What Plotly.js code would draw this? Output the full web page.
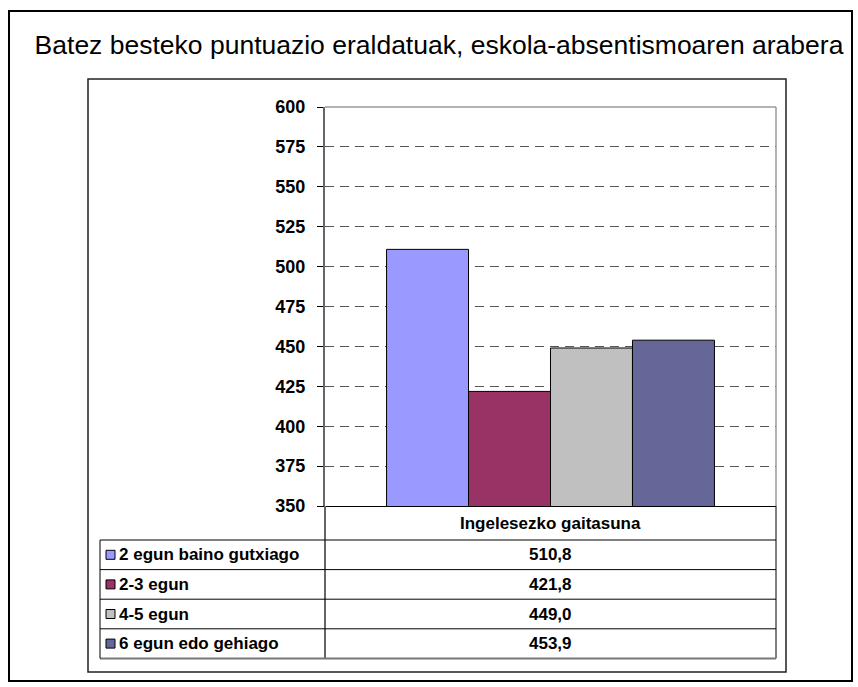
<!DOCTYPE html>
<html>
<head>
<meta charset="utf-8">
<script src="https://cdn.plot.ly/plotly-3.0.1.min.js"></script>
<style>
  html, body { margin: 0; padding: 0; background: #ffffff; }
  #chart { width: 858px; height: 687px; }
</style>
</head>
<body>
<div id="chart"></div>
<script>
// ---- data ----
const chartTitle = 'Batez besteko puntuazio eraldatuak, eskola-absentismoaren arabera';
const categories = ['Ingelesezko gaitasuna'];
const seriesNames = ['2 egun baino gutxiago', '2-3 egun', '4-5 egun', '6 egun edo gehiago'];
const seriesValues = [510.8, 421.8, 449.0, 453.9];
const yTickValues = [350, 375, 400, 425, 450, 475, 500, 525, 550, 575, 600];

// ---- styles ----
const seriesColors = ['#9999FF', '#993366', '#C0C0C0', '#666699'];
const W = 858, H = 687;
const plotL = 325, plotR = 776, plotT = 107, plotB = 506;
const FONT = 'Liberation Sans, Arial, sans-serif';
const TABLE_FONT = 17;

const px = x => (x - plotL) / (plotR - plotL);
const py = y => (plotB - y) / (plotB - plotT);

const traces = seriesNames.map((name, i) => ({
  type: 'bar',
  name: name,
  x: categories,
  y: [seriesValues[i]],
  marker: { color: seriesColors[i], line: { color: '#000000', width: 1 } },
  hoverinfo: 'skip'
}));

// table geometry (pixels)
const tableL = 100;
const headerB = 540;
const rowH = 29.6;
const rowTops = seriesNames.map((_, i) => headerB + i * rowH);
const tableB = headerB + seriesNames.length * rowH;

const shapes = [];
const line = (x0, y0, x1, y1, color, width) => shapes.push({
  type: 'line', xref: 'paper', yref: 'paper',
  x0: px(x0), y0: py(y0), x1: px(x1), y1: py(y1),
  line: { color: color, width: width }
});
// outer border
shapes.push({ type: 'rect', xref: 'paper', yref: 'paper',
  x0: px(9), y0: py(11), x1: px(852), y1: py(681),
  line: { color: '#000000', width: 2 }, layer: 'below' });
// inner chart-area box
shapes.push({ type: 'rect', xref: 'paper', yref: 'paper',
  x0: px(88), y0: py(79), x1: px(786), y1: py(672),
  line: { color: '#222222', width: 1.5 }, layer: 'below' });
// plot area top/right border
line(plotL, plotT, plotR, plotT, '#999999', 1.5);
line(plotR, plotT, plotR, plotB, '#999999', 1.5);
// table lines
line(plotL, plotB, plotL, tableB, '#666666', 2);
line(plotR, plotB, plotR, tableB, '#000000', 1);
line(tableL, headerB, plotR, headerB, '#000000', 1);
seriesNames.forEach((_, i) => {
  if (i < seriesNames.length - 1) line(tableL, rowTops[i] + rowH, plotR, rowTops[i] + rowH, '#000000', 1);
});
line(tableL, tableB, plotR, tableB, '#777777', 2);
line(tableL, headerB, tableL, tableB, '#000000', 1);
// legend keys
seriesNames.forEach((_, i) => {
  const cy = rowTops[i] + rowH / 2;
  shapes.push({ type: 'rect', xref: 'paper', yref: 'paper',
    x0: px(106), x1: px(115), y0: py(cy - 4.5), y1: py(cy + 4.5),
    fillcolor: seriesColors[i], line: { color: '#000000', width: 1 } });
});

const annotations = [];
annotations.push({ xref: 'paper', yref: 'paper', x: px((plotL + plotR) / 2), y: py((plotB + headerB) / 2),
  text: '<b>' + categories[0] + '</b>', showarrow: false, xanchor: 'center', yanchor: 'middle',
  font: { family: FONT, size: TABLE_FONT, color: '#000000' } });
seriesNames.forEach((name, i) => {
  const cy = rowTops[i] + rowH / 2;
  annotations.push({ xref: 'paper', yref: 'paper', x: px(117), y: py(cy),
    text: '<b>' + name + '</b>', showarrow: false, xanchor: 'left', yanchor: 'middle',
    font: { family: FONT, size: TABLE_FONT, color: '#000000' } });
  annotations.push({ xref: 'paper', yref: 'paper', x: px((plotL + plotR) / 2), y: py(cy),
    text: '<b>' + seriesValues[i].toFixed(1).replace('.', ',') + '</b>', showarrow: false,
    xanchor: 'center', yanchor: 'middle',
    font: { family: FONT, size: TABLE_FONT, color: '#000000' } });
});

const layout = {
  width: W, height: H,
  margin: { l: plotL, r: W - plotR, t: plotT, b: H - plotB, pad: 0 },
  paper_bgcolor: '#ffffff', plot_bgcolor: '#ffffff',
  title: { text: chartTitle, x: 439 / W, xanchor: 'center', y: 1 - 45 / H, yanchor: 'middle',
    font: { family: FONT, size: 26.5, color: '#000000' } },
  showlegend: false,
  barmode: 'group', bargap: 0.273, bargroupgap: 0,
  xaxis: { showticklabels: false, ticks: '', showgrid: false, zeroline: false,
    showline: true, linecolor: '#000000', linewidth: 1, fixedrange: true },
  yaxis: { range: [350, 600], tickvals: yTickValues, ticktext: yTickValues.map(v => '<b>' + v + '</b>'),
    ticks: 'outside', ticklen: 6, tickcolor: '#000000', tickwidth: 1, ticklabelstandoff: 8,
    showline: true, linecolor: '#666666', linewidth: 2,
    showgrid: true, gridcolor: '#555555', griddash: '9px,6px', gridwidth: 1,
    zeroline: false, tickfont: { family: FONT, size: 18, color: '#000000' }, fixedrange: true },
  shapes: shapes,
  annotations: annotations
};

Plotly.newPlot('chart', traces, layout, { staticPlot: true });
</script>
</body>
</html>
